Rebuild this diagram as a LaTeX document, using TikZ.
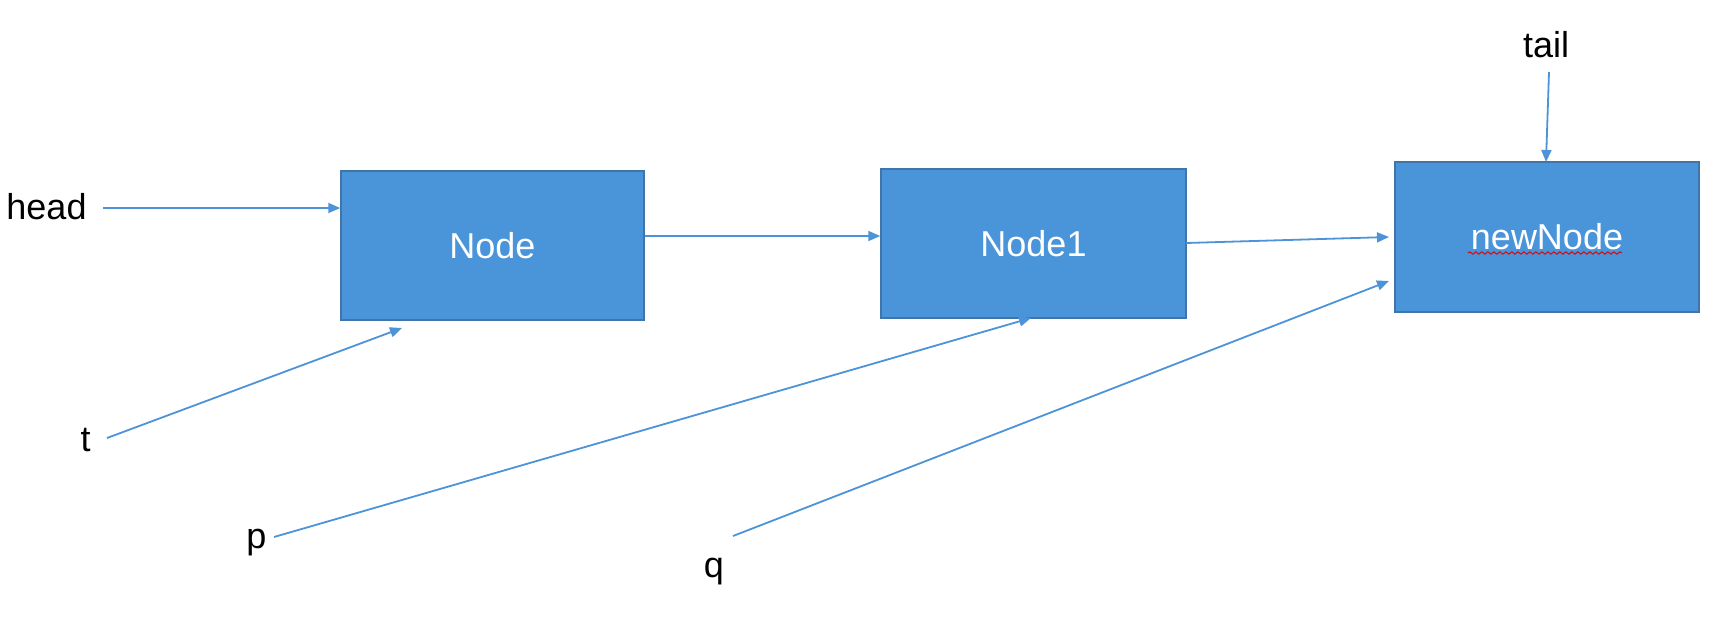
\documentclass[tikz,border=0pt]{standalone}
\usepackage{fontspec}
\setmainfont{Liberation Sans}
\usetikzlibrary{arrows.meta,decorations.pathmorphing}
\definecolor{boxfill}{HTML}{4A94DA}
\definecolor{boxline}{HTML}{3F75A8}
\definecolor{arrcol}{HTML}{4D93D8}
\begin{document}
\begin{tikzpicture}[x=0.5pt,y=-0.5pt,
  listbox/.style={rectangle,draw=boxline,fill=boxfill,line width=0.75pt,inner sep=0pt,
    text=white,font=\fontsize{18}{20}\selectfont},
  lbl/.style={inner sep=0pt,anchor=base,font=\fontsize{18}{20}\selectfont,text=black},
  arr/.style={draw=arrcol,line width=0.9pt,-{Triangle[length=6pt,width=5pt]}}]
\useasboundingbox (0,0) rectangle (1729,622);
% boxes
\node[listbox,minimum width=151.5pt,minimum height=74.5pt] (N) at (492.5,245.5) {Node};
\node[listbox,minimum width=152.5pt,minimum height=74.5pt] (N1) at (1033.5,243.5) {Node1};
\node[listbox,minimum width=152pt,minimum height=75pt] (NN) at (1547,237) {\raisebox{-1pt}{newNode}};
% labels
\node[lbl] (head) at (46.5,219) {head};
\node[lbl] (t) at (85.5,451) {t};
\node[lbl] (p) at (256.5,548) {p};
\node[lbl] (q) at (714,577) {q};
\node[lbl] (tail) at (1546,57) {tail};
% coordinates
\coordinate (hS) at (103,208);
\coordinate (tS) at (107,438);
\coordinate (tE) at (402,328);
\coordinate (pS) at (274,537);
\coordinate (pE) at (1031,318);
\coordinate (qS) at (733,536);
\coordinate (qE) at (1389,281);
\coordinate (taS) at (1549,72);
\coordinate (taE) at (1546,162);
\coordinate (n1S) at (1186,243);
\coordinate (nnE) at (1389,237);
% spell-check squiggle
\draw[red!85!black,line width=0.45pt,decorate,decoration={snake,amplitude=0.6pt,segment length=3pt}]
  (1468,253) -- (1622,253);
% connectors
\draw[arr] (hS) -- (N.west |- hS);
\draw[arr] (N.east |- 0,236) -- (N1.west |- 0,236);
\draw[arr] (n1S) -- (nnE);
\draw[arr] (taS) -- (taE);
\draw[arr] (tS) -- (tE);
\draw[arr] (pS) -- (pE);
\draw[arr] (qS) -- (qE);
\end{tikzpicture}
\end{document}
